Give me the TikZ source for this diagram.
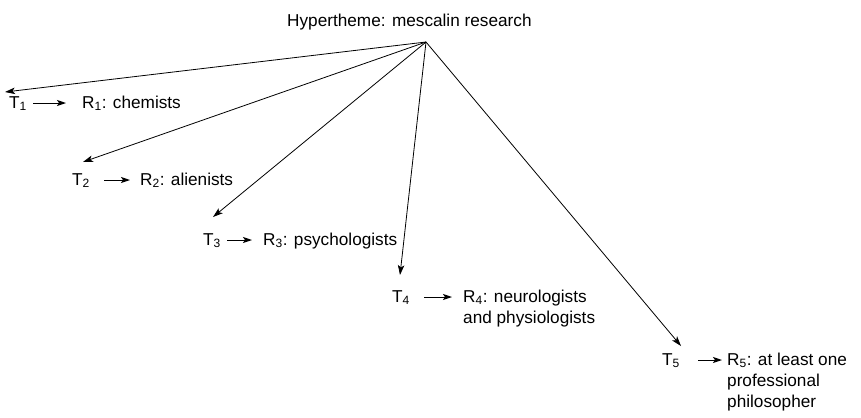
\documentclass[tikz,border=0pt]{standalone}
\usepackage{fontspec}
\setmainfont{Liberation Sans}
\usetikzlibrary{arrows.meta}
\newcommand{\linesof}[1]{\begin{tabular}[t]{@{}l@{}}#1\end{tabular}}
\begin{document}
\begin{tikzpicture}[x=1bp,y=-1bp,
  lbl/.style={anchor=base west,inner sep=0pt,font=\fontsize{17.2bp}{21bp}\selectfont},
  mainarrow/.style={line width=0.8bp,-{Stealth[length=10bp,width=6.5bp,inset=2.5bp]}},
  smallarrow/.style={line width=1bp,-{Stealth[length=9bp,width=6bp,inset=2bp]}}]
\useasboundingbox (0,0) rectangle (861,417);
\node[lbl] (H) at (287,26) {Hypertheme: mescalin research};
\coordinate (hub) at (426,42);
% rows
\node[lbl] (T1) at (9,108) {T\textsubscript{1}};
\node[lbl] (R1) at (82,108) {R\textsubscript{1}: chemists};
\node[lbl] (T2) at (72,185) {T\textsubscript{2}};
\node[lbl] (R2) at (140,185) {R\textsubscript{2}: alienists};
\node[lbl] (T3) at (203,245) {T\textsubscript{3}};
\node[lbl] (R3) at (263,245) {R\textsubscript{3}: psychologists};
\node[lbl] (T4) at (392,302) {T\textsubscript{4}};
\node[lbl] (R4) at (463,302) {\linesof{R\textsubscript{4}: neurologists\\and physiologists}};
\node[lbl] (T5) at (662,365) {T\textsubscript{5}};
\node[lbl] (R5) at (727,365) {\linesof{R\textsubscript{5}: at least one\\professional\\philosopher}};
% tips of main arrows
\coordinate (t1) at (5,92);
\coordinate (t2) at (83,162);
\coordinate (t3) at (213,217);
\coordinate (t4) at (400,275);
\coordinate (t5) at (681,346);
\foreach \t in {t1,t2,t3,t4,t5} \draw[mainarrow] (hub) -- (\t);
% small arrows T -> R
\draw[smallarrow] ([xshift=6bp,yshift=5bp]T1.base east) -- ([xshift=-16bp,yshift=5bp]R1.base west);
\draw[smallarrow] ([xshift=14bp,yshift=5bp]T2.base east) -- ([xshift=-10bp,yshift=5bp]R2.base west);
\draw[smallarrow] ([xshift=6bp,yshift=5bp]T3.base east) -- ([xshift=-11bp,yshift=5bp]R3.base west);
\draw[smallarrow] ([xshift=14bp,yshift=5bp]T4.base east) -- ([xshift=-11bp,yshift=5bp]R4.base west);
\draw[smallarrow] ([xshift=18bp,yshift=5bp]T5.base east) -- ([xshift=-5bp,yshift=5bp]R5.base west);
\end{tikzpicture}
\end{document}
